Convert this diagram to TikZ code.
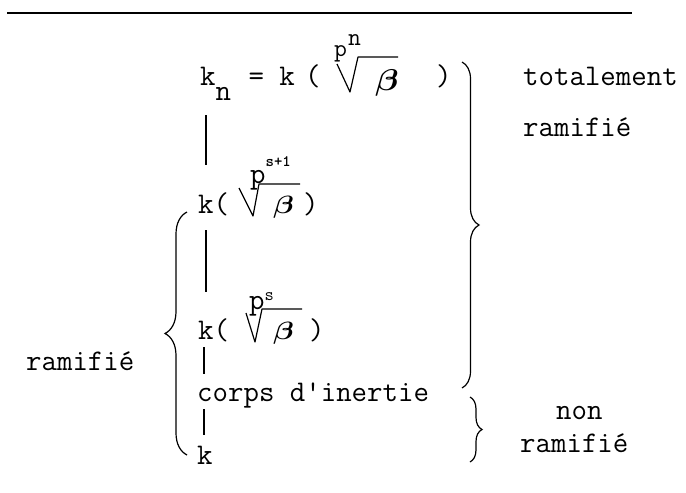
\documentclass[tikz,border=0pt]{standalone}
\usepackage{fontspec}
\usetikzlibrary{decorations.pathreplacing}

\begin{document}
\begin{tikzpicture}[x=1pt, y=-1pt,
  every node/.style={inner sep=0pt, anchor=base west,
                     font=\ttfamily\fontsize{30}{34}\selectfont},
  greek/.style={font=\normalsize\boldmath},
  bar/.style={line width=1.2pt},
  rad/.style={line width=1.2pt, line join=round},
  curly/.style={decorate, decoration={brace, amplitude=#1}, line width=1.2pt}
]
  \useasboundingbox (0,0) rectangle (686,493);
  \draw[line width=2pt] (7,13) -- (632,13);

  % tower of fields
  \node (kn)      at (200,85)  {k\raisebox{-0.5em}{n}\kern2pt{} = k};
  \node (lpn)     at (305,85)  {(};
  \node (idxn)    at (334,56)  {\fontsize{25}{28}\selectfont p\kern1pt\raisebox{0.42em}{n}};
  \node[greek] (betan) at (375,90) {\scalebox{3.4}[3.0]{$\beta$}};
  \node (rpn)     at (436,85)  {)};
  \draw[rad] (337,64) -- (350,92) -- (358,57) -- (398,57);

  \node (ksone)    at (198,213) {k(};
  \node (idxsone)  at (250,183) {p\raisebox{0.55em}{\fontsize{16}{18}\selectfont\bfseries s+1}};
  \node[greek] (betasone) at (273,213) {\scalebox{3.0}[2.5]{$\beta$}};
  \node (rpsone)   at (303,213) {)};
  \draw[rad] (239,188) -- (253,216) -- (259,184) -- (300,184);

  \node (ks)    at (198,339) {k(};
  \node (idxs)  at (249,309) {p\raisebox{0.3em}{\fontsize{18}{20}\selectfont s}};
  \node[greek] (betas) at (273,339) {\scalebox{3.0}[2.5]{$\beta$}};
  \node (rps)   at (309,339) {)};
  \draw[rad] (246,313) -- (255,342) -- (262,309) -- (302,309);

  \node (inertie) at (197,401) {corps d\textquotesingle inertie};
  \node (kbase)   at (197,464) {k};

  \draw[bar] ([xshift=6pt,yshift=-30pt]kn.base west) -- ([xshift=8pt,yshift=48pt]ksone.base west);
  \draw[bar] ([xshift=8pt,yshift=-17pt]ksone.base west) -- ([xshift=8pt,yshift=47pt]ks.base west);
  \draw[bar] ([xshift=6pt,yshift=-8pt]ks.base west) -- ([xshift=7pt,yshift=27pt]inertie.base west);
  \draw[bar] ([xshift=7pt,yshift=-8pt]inertie.base west) -- ([xshift=7pt,yshift=29pt]kbase.base west);

  % braces and labels
  \draw[curly=17pt] (462,62) -- (462,388);
  \draw[curly=22pt] (187,455) -- (187,212);
  \draw[curly=12pt] (470,397) -- (470,462);

  \node (tot)    at (523,85)  {totalement};
  \node (totram) at (523,136) {ramifié};
  \node (ram)    at (26,370)  {ramifié};
  \node (non)    at (556,419) {non};
  \node (nonram) at (520,452) {ramifié};
\end{tikzpicture}
\end{document}
